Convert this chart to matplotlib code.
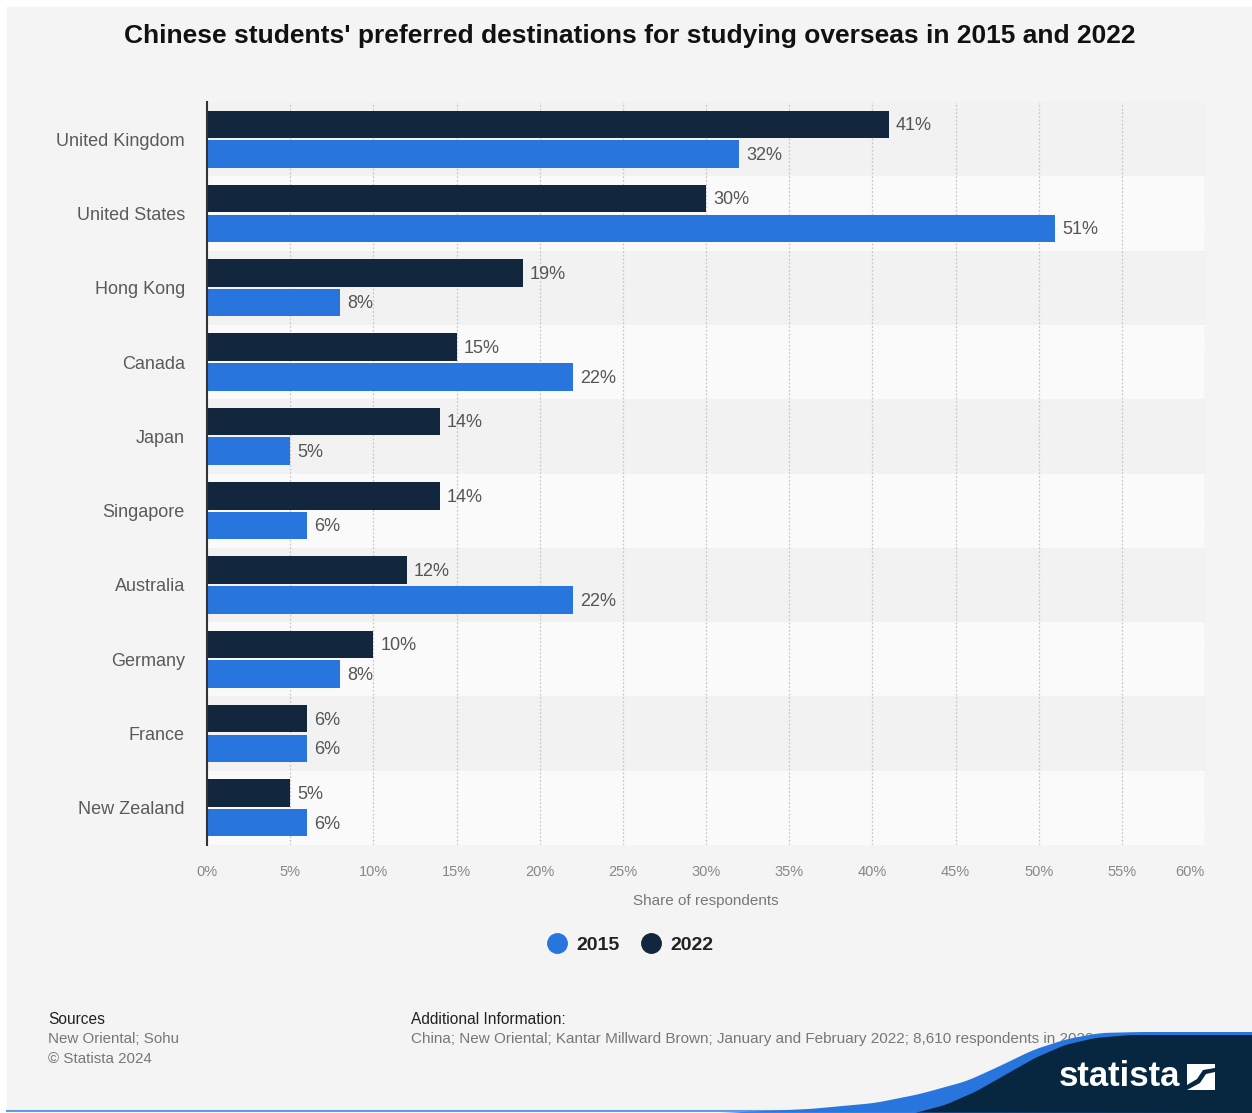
import numpy as np
import matplotlib
matplotlib.use("Agg")
import matplotlib.pyplot as plt
from matplotlib.lines import Line2D
from matplotlib.patches import Rectangle, Polygon

plt.rcParams['font.family'] = ['Liberation Sans', 'DejaVu Sans']

countries = ["United Kingdom", "United States", "Hong Kong", "Canada", "Japan",
             "Singapore", "Australia", "Germany", "France", "New Zealand"]
share_2022 = [41, 30, 19, 15, 14, 14, 12, 10, 6, 5]
share_2015 = [32, 51, 8, 22, 5, 6, 22, 8, 6, 6]
x_ticks = list(range(0, 61, 5))
x_tick_labels = [f"{t}%" for t in x_ticks]

title = "Chinese students' preferred destinations for studying overseas in 2015 and 2022"
sources = ["New Oriental; Sohu", "\u00a9 Statista 2024"]
additional = ("China; New Oriental; Kantar Millward Brown; January and February 2022; "
              "8,610 respondents in 2022")

BLUE = "#2876dd"
DARK = "#12263d"
NAVY = "#06273f"
BG = "#f4f4f4"

W, H = 1252, 1113
fig = plt.figure(figsize=(W / 100, H / 100), dpi=100)
fig.patch.set_facecolor("white")


def fx(x):
    return x / W


def fy(y):
    return 1 - y / H


# background layer in pixel coordinates (footer, logo)
bg = fig.add_axes([0, 0, 1, 1], zorder=0)
bg.set_xlim(0, W)
bg.set_ylim(H, 0)
bg.axis("off")
bg.add_patch(Rectangle((7, 7), W - 7, 1103, color=BG, zorder=0))
bg.plot([7, W], [1111, 1111], color="#5b9be8", lw=1.5, zorder=1)

bg.text(48, 1019, "Sources", fontsize=11.2, color="#222222", va="center", zorder=3)
for i, s in enumerate(sources):
    bg.text(48, 1039 + 20 * i, s, fontsize=10.9, color="#777777", va="center", zorder=3)
bg.text(411, 1019, "Additional Information:", fontsize=11.2, color="#222222", va="center", zorder=3)
bg.text(411, 1039, additional, fontsize=11, color="#777777", va="center", zorder=3)

# statista wave
blue_x = np.array([720, 810, 875, 920, 967, 1000, 1033, 1067, 1100, 1140, W])
blue_y = np.array([1113, 1109, 1103, 1094, 1081, 1066, 1050, 1039, 1033, 1032, 1032])
navy_x = np.array([915, 945, 975, 1005, 1035, 1065, 1095, 1130, W])
navy_y = np.array([1113, 1105, 1092, 1075, 1058, 1045, 1038, 1035, 1035])


def smooth_curve(xs, ys):
    gx = np.linspace(xs[0], xs[-1], 400)
    gy = np.interp(gx, xs, ys)
    k = np.ones(15) / 15
    gy = np.convolve(np.pad(gy, 7, mode="edge"), k, mode="valid")
    return gx, gy


bx, by = smooth_curve(blue_x, blue_y)
bg.add_patch(Polygon(np.column_stack([np.r_[bx, W], np.r_[by, H]]),
                     closed=True, color=BLUE, lw=0, zorder=5))
nx, ny = smooth_curve(navy_x, navy_y)
bg.add_patch(Polygon(np.column_stack([np.r_[nx, W], np.r_[ny, H]]),
                     closed=True, color=NAVY, lw=0, zorder=6))
bg.text(1119, 1076, "statista", fontsize=25, fontweight="bold", color="white",
        ha="center", va="center", zorder=7)
bg.add_patch(Rectangle((1187, 1064), 28, 26, color="white", lw=0, zorder=7))
bg.add_patch(Polygon([[1187, 1085], [1197, 1079], [1203, 1070], [1215, 1068],
                      [1215, 1072], [1206, 1074], [1200, 1083], [1187, 1090]],
                     closed=True, color=NAVY, lw=0, zorder=8))

# main chart
ax = fig.add_axes([fx(207), fy(845), fx(1205 - 207), (845 - 102) / H], zorder=1)
ax.set_facecolor("none")
y = np.arange(len(countries))
for i in y:
    ax.axhspan(i - 0.5, i + 0.5, color="#fafafa" if i % 2 else "#f2f2f2", lw=0, zorder=0)

bar_h = 0.37
ax.barh(y - 0.2, share_2022, height=bar_h, color=DARK, zorder=3)
ax.barh(y + 0.2, share_2015, height=bar_h, color=BLUE, zorder=3)
for i in y:
    ax.annotate(f"{share_2022[i]}%", (share_2022[i], i - 0.2), xytext=(5, -1),
                textcoords="offset points", va="center", fontsize=13, color="#555555")
    ax.annotate(f"{share_2015[i]}%", (share_2015[i], i + 0.2), xytext=(5, -1),
                textcoords="offset points", va="center", fontsize=13, color="#555555")

ax.set_xlim(0, 60)
ax.set_ylim(len(countries) - 0.5, -0.5)
ax.set_xticks(x_ticks)
ax.set_xticklabels(x_tick_labels)
ax.get_xticklabels()[-1].set_ha("right")
ax.set_yticks(y)
ax.set_yticklabels(countries)
ax.tick_params(axis="x", length=0, pad=14.5, labelsize=10.5, labelcolor="#888888")
ax.tick_params(axis="y", length=0, pad=16, labelsize=13, labelcolor="#5a5a5a")
ax.grid(axis="x", color="#c8c8c8", linestyle=(0, (1.5, 1.5)), lw=0.9, zorder=1)
ax.set_axisbelow(True)
for side in ["top", "right", "bottom"]:
    ax.spines[side].set_visible(False)
ax.spines["left"].set_color("#333333")
ax.spines["left"].set_linewidth(1.5)
ax.spines["left"].set_zorder(4)

fig.text(fx(706), fy(901), "Share of respondents", ha="center", va="center",
         fontsize=11, color="#777777")
fig.text(fx(630), fy(36), title, ha="center", va="center", fontsize=19,
         fontweight="bold", color="#111111")

handles = [Line2D([], [], marker="o", ls="", markersize=14, color=BLUE),
           Line2D([], [], marker="o", ls="", markersize=14, color=DARK)]
fig.legend(handles, ["2015", "2022"], loc="center", bbox_to_anchor=(fx(630), fy(945)),
           ncol=2, frameon=False, handlelength=1.0, handletextpad=0.5, columnspacing=1.1,
           prop={"size": 14, "weight": "bold"}, labelcolor="#222222")

fig.savefig("out.png", dpi=100, facecolor=fig.get_facecolor())
